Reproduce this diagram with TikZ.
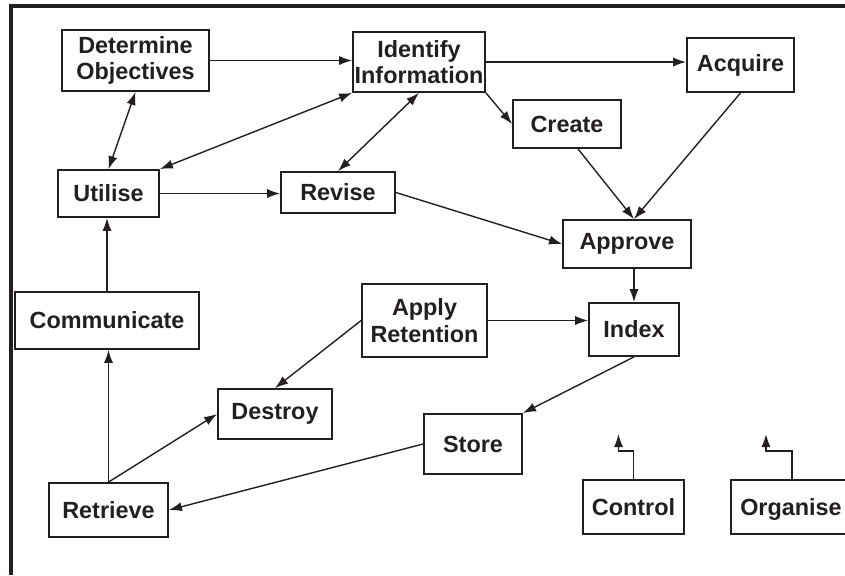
\documentclass[tikz,border=0pt]{standalone}
\usepackage{fontspec}
\setmainfont{Liberation Sans}
\usetikzlibrary{arrows.meta}
\definecolor{ink}{RGB}{35,31,32}
\begin{document}
\begin{tikzpicture}[x=0.5pt, y=-0.5pt,
    box/.style={draw=ink, line width=0.9pt, align=center, inner sep=0pt,
      text=ink, font=\fontsize{11.7}{13.2}\selectfont\bfseries},
    flow/.style={draw=ink, line width=0.7pt, -{Latex[length=6.5pt,width=4.6pt]}},
    both/.style={flow, {Latex[length=6.5pt,width=4.6pt]}-{Latex[length=6.5pt,width=4.6pt]}}]
    \useasboundingbox (0,0) rectangle (845,575);

    % Frame along the top and left edge
    \draw[ink, line width=1.6pt] (11,575) -- (11,6) -- (845,6);

    % Top row
    \node[box, minimum width=73.5pt, minimum height=30.5pt] (obj) at (135.5,60.5) {Determine\\Objectives};
    \node[box, minimum width=66pt, minimum height=30pt] (ident) at (419,62) {Identify\\Information};
    \node[box, minimum width=53.5pt, minimum height=27pt] (acq) at (740.5,65) {Acquire};
    \node[box, minimum width=54pt, minimum height=24pt] (create) at (567,124) {Create};

    % Middle rows
    \node[box, minimum width=50.5pt, minimum height=23.5pt] (util) at (108.5,193.5) {Utilise};
    \node[box, minimum width=57pt, minimum height=20.5pt] (revise) at (338,192.5) {Revise};
    \node[box, minimum width=64pt, minimum height=24pt] (approve) at (627,244) {Approve};
    \node[box, minimum width=92pt, minimum height=28.5pt] (comm) at (107,320.5) {Communicate};
    \node[box, minimum width=62.5pt, minimum height=36.5pt] (retent) at (424.5,320.5) {Apply\\Retention};
    \node[box, minimum width=45pt, minimum height=26.5pt] (index) at (634,329.5) {Index};

    % Bottom rows
    \node[box, minimum width=57pt, minimum height=25pt] (destroy) at (275,414) {Destroy};
    \node[box, minimum width=49pt, minimum height=30pt] (store) at (473,444) {Store};
    \node[box, minimum width=59.5pt, minimum height=27pt] (retrieve) at (108.5,510) {Retrieve};
    \node[box, minimum width=50.5pt, minimum height=27pt] (control) at (633.5,507) {Control};
    \node[box, minimum width=60pt, minimum height=27pt, text depth=0pt] (organise) at (791,507) {Organise};

    % Arrows between the steps
    \draw[flow] (obj.east) -- (obj.east -| ident.west);
    \draw[flow] (ident.east) -- (ident.east -| acq.west);
    \draw[flow] (ident.south east) -- (create.west);
    \draw[both] (obj.south) -- (util.north);
    \draw[both] (ident.south west) -- (util.north east);
    \draw[both] (ident.south) -- (revise.north);
    \draw[flow] (util.east) -- (util.east -| revise.west);
    \draw[flow] (revise.east) -- (approve.west);
    \draw[flow] ([xshift=5.5pt]create.south) -- ([xshift=3.5pt]approve.north);
    \draw[flow] (acq.south) -- ([xshift=3.5pt]approve.north);
    \draw[flow] (approve.south -| index.north) -- (index.north);
    \draw[flow] (retent.east) -- (retent.east -| index.west);
    \draw[flow] (retent.west) -- (destroy.north);
    \draw[flow] (index.south) -- (store.north east);
    \draw[flow] (store.west) -- (retrieve.east);
    \draw[flow] (retrieve.north) -- (destroy.west);
    \draw[flow] (retrieve.north) -- (retrieve.north |- comm.south);
    \draw[flow] (comm.north) -- (comm.north |- util.south);

    % Loose arrows out of control and organise
    \draw[flow] (control.north) -- ++(0,-28) -| ++(-15,-17);
    \draw[flow] ([xshift=0.5pt]organise.north) -- ++(0,-28) -| ++(-26,-17);
\end{tikzpicture}
\end{document}
